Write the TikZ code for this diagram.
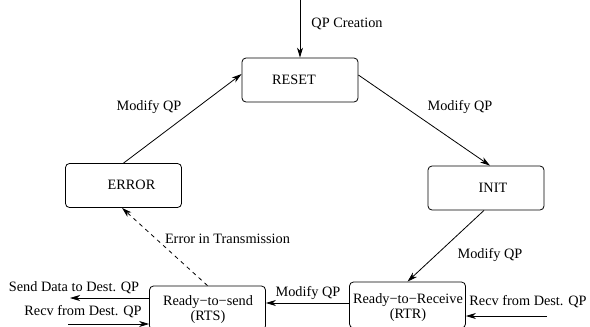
\documentclass[tikz,border=0pt]{standalone}
\usepackage{fontspec}
\setmainfont{Liberation Serif}
\usetikzlibrary{arrows.meta}
\begin{document}
\begin{tikzpicture}[x=1pt,y=-1pt,
  box/.style={draw,rounded corners=4pt,minimum width=116pt,minimum height=44pt,inner sep=0pt,line width=0.8pt},
  txt/.style={font=\fontsize{14.3}{16}\selectfont,inner sep=0pt},
  arr/.style={line width=0.8pt,-{Stealth[length=10pt,width=6pt,inset=3pt]}}]
\useasboundingbox (0,0) rectangle (590,327);
% boxes
\node[box] (reset) at (300,80) {};
\node[box] (error) at (123.5,185.5) {};
\node[box] (init) at (486,188) {};
\node[box] (rts) at (207.5,308) {};
\node[box,minimum height=46pt] (rtr) at (407.5,305) {};
% box texts
\node[txt] (tReset) at (294,80) {RESET};
\node[txt] (tError) at (131.5,185) {ERROR};
\node[txt] (tInit) at (493,188) {INIT};
\node[txt,align=center] (tRts) at (208,310) {Ready−to−send\\[-1pt](RTS)};
\node[txt,align=center] (tRtr) at (408,308) {Ready−to−Receive\\[-1pt](RTR)};
% free ends
\coordinate (top) at (300,0);
\coordinate (sendEnd) at (70,298);
\coordinate (recvL) at (68,324);
\coordinate (recvR) at (547,316);
% connectors
\draw[arr] (top) -- (reset.north);
\draw[arr] ([yshift=5pt]reset.east) -- ([xshift=4pt]init.north);
\draw[arr] ([xshift=-2pt]init.south) -- (rtr.north);
\draw[arr] ([yshift=2pt]rtr.west) -- ([yshift=2pt]rtr.west -| rts.east);
\draw[arr,dashed,dash pattern=on 4pt off 4pt] (rts.north) -- ([xshift=-1.5pt]error.south);
\draw[arr] (error.north) -- ([yshift=6pt]reset.west);
\draw[arr] ([yshift=10pt]rts.west) -- (sendEnd);
\draw[arr] (recvL) -- ([yshift=-16pt]rts.west);
\draw[arr] (recvR) -- ([yshift=-11pt]rtr.east);
% labels
\node[txt] (lCreate) at (347,24) {QP Creation};
\node[txt] (lM1) at (149,107) {Modify QP};
\node[txt] (lM2) at (460,107) {Modify QP};
\node[txt] (lM3) at (490,255) {Modify QP};
\node[txt] (lM4) at (308,293) {Modify QP};
\node[txt] (lErr) at (227.5,239) {Error in Transmission};
\node[txt] (lSend) at (74,288) {Send Data to Dest. QP};
\node[txt] (lRecvL) at (83,312) {Recv from Dest. QP};
\node[txt] (lRecvR) at (528,302) {Recv from Dest. QP};
\end{tikzpicture}
\end{document}
